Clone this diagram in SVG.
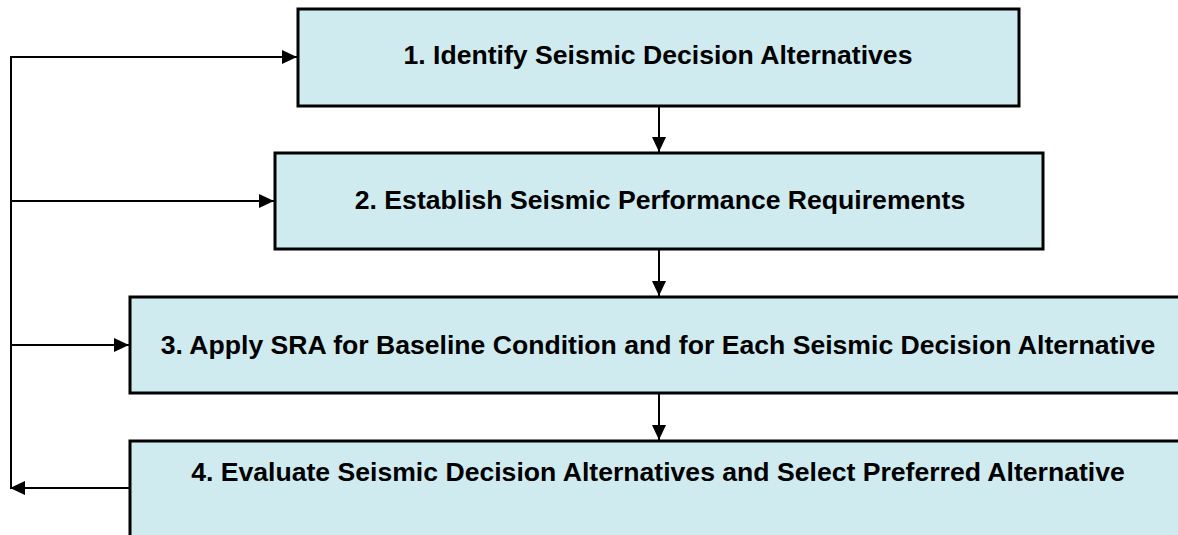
<svg xmlns="http://www.w3.org/2000/svg" width="1178" height="535" viewBox="0 0 1178 535">
<style>
.box{fill:#CFEBEF;stroke:#000;stroke-width:3}
.lbl{font-family:"Liberation Sans",Arial,sans-serif;font-weight:bold;font-size:26.6px;fill:#000;text-anchor:middle}
.ln{fill:none;stroke:#000;stroke-width:2}
</style>
<defs>
<marker id="ah" markerUnits="userSpaceOnUse" markerWidth="16" markerHeight="14" refX="15" refY="7" orient="auto">
<path d="M0,0 L15,7 L0,14 Z" fill="#000"/>
</marker>
</defs>
<rect width="1178" height="535" fill="#fff"/>
<g id="n1"><rect class="box" x="298" y="9" width="721" height="97"/><text class="lbl" x="658" y="64">1. Identify Seismic Decision Alternatives</text></g>
<g id="n2"><rect class="box" x="275" y="153" width="768" height="96"/><text class="lbl" x="660" y="209">2. Establish Seismic Performance Requirements</text></g>
<g id="n3"><rect class="box" x="130" y="297" width="1060" height="96"/><text class="lbl" x="658" y="354">3. Apply SRA for Baseline Condition and for Each Seismic Decision Alternative</text></g>
<g id="n4"><rect class="box" x="130" y="441" width="1060" height="110"/><text class="lbl" x="658" y="481">4. Evaluate Seismic Decision Alternatives and Select Preferred Alternative</text></g>
<g id="connectors">
<path class="ln" d="M11,488 L11,57 L297,57" marker-end="url(#ah)"/>
<path class="ln" d="M11,201 L274,201" marker-end="url(#ah)"/>
<path class="ln" d="M11,345 L129,345" marker-end="url(#ah)"/>
<path class="ln" d="M129,488 L10,488" marker-end="url(#ah)"/>
<path class="ln" d="M659,107 L659,152" marker-end="url(#ah)"/>
<path class="ln" d="M659,250 L659,296" marker-end="url(#ah)"/>
<path class="ln" d="M659,394 L659,440" marker-end="url(#ah)"/>
</g>
</svg>
